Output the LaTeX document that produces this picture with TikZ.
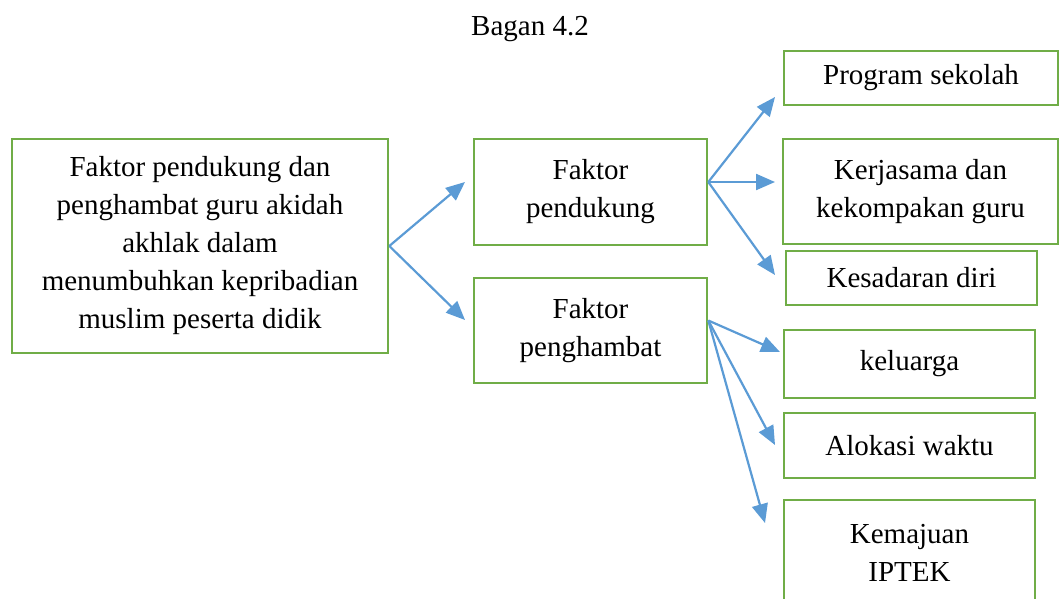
\documentclass[tikz,border=0pt]{standalone}
\usepackage{fontspec}
\setmainfont{Liberation Serif}
\usepackage{xcolor}
\usetikzlibrary{arrows.meta, positioning}
\definecolor{boxgreen}{HTML}{70AD47}
\definecolor{arrowblue}{HTML}{5B9BD5}
\tikzset{
    faktorbox/.style={draw=boxgreen, line width=2.6pt, align=center, inner sep=0pt,
        font=\fontsize{29}{38}\selectfont},
    flowarrow/.style={draw=arrowblue, line width=2.2pt, -{Triangle[length=19pt, width=16pt]}}
}

\begin{document}
\begin{tikzpicture}[x=1pt, y=-1pt]

    % =================================================================
    % LAYER 0: THE PAGE FRAME
    % =================================================================
    \useasboundingbox (0,0) rectangle (1059,598);

    \node[font=\fontsize{29}{38}\selectfont] (judul) at (530,29) {Bagan 4.2};

    % =================================================================
    % LAYER 1: THE MAIN BOX AND THE TWO FACTORS
    % =================================================================
    \node[faktorbox, minimum width=376pt, minimum height=214pt] (utama) at (200,246)
        {Faktor pendukung dan\\penghambat guru akidah\\akhlak dalam\\menumbuhkan kepribadian\\muslim peserta didik};

    \node[faktorbox, minimum width=233pt, minimum height=106pt] (pendukung) at (590.5,192)
        {Faktor\\pendukung};
    \node[faktorbox, minimum width=233pt, minimum height=105pt] (penghambat) at (590.5,330.5)
        {Faktor\\penghambat};

    % =================================================================
    % LAYER 2: THE SUPPORTING FACTORS
    % =================================================================
    \node[faktorbox, minimum width=274pt, minimum height=54pt] (program) at (921,78) {Program sekolah};
    \node[faktorbox, minimum width=275pt, minimum height=105pt] (kerjasama) at (920.5,191.5)
        {Kerjasama dan\\kekompakan guru};
    \node[faktorbox, minimum width=251pt, minimum height=54pt] (kesadaran) at (911.5,278) {Kesadaran diri};

    % =================================================================
    % LAYER 3: THE INHIBITING FACTORS
    % =================================================================
    \node[faktorbox, minimum width=251pt, minimum height=68pt] (keluarga) at (909.5,364) {keluarga};
    \node[faktorbox, minimum width=251pt, minimum height=65pt] (alokasi) at (909.5,445.5) {Alokasi waktu};
    \node[faktorbox, minimum width=251pt, minimum height=106pt] (kemajuan) at (909.5,553)
        {Kemajuan\\IPTEK};

    % =================================================================
    % LAYER 4: THE ARROWS
    % =================================================================
    \coordinate (ujungA) at (465,182);
    \coordinate (ujungB) at (465,320);
    \coordinate (ujungC) at (775,97);
    \coordinate (ujungD) at (775,182);
    \coordinate (ujungE) at (775,275);
    \coordinate (ujungF) at (780,352);
    \coordinate (ujungG) at (775,445);
    \coordinate (ujungH) at (765,523);

    \draw[flowarrow] (utama.east) -- (ujungA);
    \draw[flowarrow] (utama.east) -- (ujungB);

    \draw[flowarrow] ([yshift=10pt]pendukung.east) -- (ujungC);
    \draw[flowarrow] ([yshift=10pt]pendukung.east) -- (ujungD);
    \draw[flowarrow] ([yshift=10pt]pendukung.east) -- (ujungE);

    \draw[flowarrow] ([yshift=10pt]penghambat.east) -- (ujungF);
    \draw[flowarrow] ([yshift=10pt]penghambat.east) -- (ujungG);
    \draw[flowarrow] ([yshift=10pt]penghambat.east) -- (ujungH);

\end{tikzpicture}
\end{document}
